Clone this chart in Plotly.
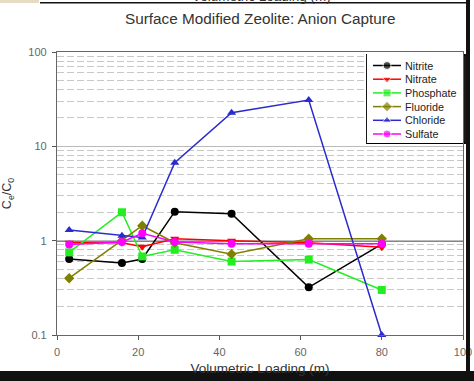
import plotly.graph_objects as go

x_loading = [3, 16, 21, 29, 43, 62, 80]
nitrite = [0.64, 0.58, 0.64, 2.03, 1.93, 0.32, 0.92]
nitrate = [0.95, 0.95, 0.86, 1.05, 1.0, 0.95, 0.85]
phosphate = [0.75, 2.0, 0.68, 0.80, 0.60, 0.63, 0.30]
fluoride = [0.40, 1.0, 1.44, 0.95, 0.72, 1.05, 1.05]
chloride = [1.3, 1.13, 1.08, 6.7, 22.7, 31.0, 0.1]
sulfate = [0.91, 0.97, 1.2, 0.97, 0.93, 0.93, 0.93]
series_names = ["Nitrite", "Nitrate", "Phosphate", "Fluoride", "Chloride", "Sulfate"]

colors = ["#000000", "#ff0000", "#22ee22", "#808000", "#2a2ad0", "#ff00ff"]
symbols = ["circle", "triangle-down", "square", "diamond", "triangle-up", "circle"]
series_vals = [nitrite, nitrate, phosphate, fluoride, chloride, sulfate]

# plot area in pixels
L, R, T, B = 57, 463, 52, 335
W, H = 474, 381
PW, PH = R - L, B - T


def px(xp):
    return (xp - L) / PW


def py(yp):
    return (B - yp) / PH


fig = go.Figure()
for name, vals, col, sym in zip(series_names, series_vals, colors, symbols):
    fig.add_trace(go.Scatter(
        x=x_loading, y=vals, name=name, mode="lines+markers",
        line=dict(color=col, width=1.5),
        marker=dict(color=col, symbol=sym, size=8),
        cliponaxis=False, showlegend=False,
    ))

fig.add_hline(y=1, line=dict(color="#000080", width=1.5), layer="below")

# manual legend (compact like the reference)
LG_L, LG_R, LG_T, LG_B = 367, 465, 55, 143
fig.add_shape(type="rect", xref="paper", yref="paper",
              x0=px(LG_L), x1=px(LG_R), y0=py(LG_B), y1=py(LG_T),
              line=dict(color="#000000", width=1.8), fillcolor="white", layer="between")
row0, rowgap = 65.5, 13.7
for i, (name, col, sym) in enumerate(zip(series_names, colors, symbols)):
    yc = row0 + i * rowgap
    fig.add_trace(go.Scatter(
        x=[373, 387, 401], y=[yc, yc, yc], xaxis="x2", yaxis="y2",
        mode="lines+markers", line=dict(color=col, width=1.5),
        marker=dict(color=col, symbol=sym, size=[0, 8, 0]),
        showlegend=False, hoverinfo="skip", cliponaxis=False,
    ))
    fig.add_annotation(x=404, y=yc, xref="x2", yref="y2", text=name, showarrow=False,
                       xanchor="left", yanchor="middle", borderpad=0,
                       font=dict(size=10.8, color="#222222"))

font = "Liberation Sans, Arial, sans-serif"
fig.update_layout(
    width=W, height=H,
    margin=dict(l=L, r=W - R, t=T, b=H - B, autoexpand=False),
    paper_bgcolor="white", plot_bgcolor="white",
    font=dict(family=font, size=11, color="#555555"),
    title=dict(text="Surface Modified Zeolite: Anion Capture", x=0.549, xanchor="center",
               y=0.952, yanchor="middle", font=dict(size=15.3, color="#333333")),
    showlegend=False,
    xaxis=dict(range=[0, 100], tick0=0, dtick=20, ticks="outside", ticklen=4,
               tickcolor="#555555", showgrid=False, zeroline=False, automargin=False,
               showline=True, linecolor="#666666", linewidth=1.2, mirror=True,
               ticklabelstandoff=3,
               tickfont=dict(size=11, color="#666666"),
               title=dict(text="Volumetric Loading (m)", standoff=6,
                          font=dict(size=13.5, color="#333333"))),
    yaxis=dict(type="log", range=[-1, 2], ticks="outside", ticklen=4,
               tickcolor="#555555", automargin=False, ticklabelstandoff=3,
               tickvals=[0.1, 1, 10, 100], ticktext=["0.1", "1", "10", "100"],
               showgrid=True, gridcolor="#bbbbbb", gridwidth=1.2, zeroline=False,
               showline=True, linecolor="#666666", linewidth=1.2, mirror=True,
               tickfont=dict(size=11, color="#666666"),
               minor=dict(showgrid=True, gridcolor="#c8c8c8", griddash="7px,3px",
                          gridwidth=1.2, dtick="D1"),
               title=dict(text="C<sub>e</sub>/C<sub>0</sub>", standoff=14,
                          font=dict(size=12.5, color="#333333"))),
    xaxis2=dict(domain=[px(LG_L), 1], range=[LG_L, R], visible=False, fixedrange=True,
                anchor="y2", automargin=False),
    yaxis2=dict(domain=[py(LG_B), 1], range=[LG_B, T], visible=False, fixedrange=True,
                anchor="x2", automargin=False),
)

# screenshot frame decorations
dark = "#111111"
fig.add_shape(type="rect", xref="paper", yref="paper", x0=px(40), x1=px(470),
              y0=py(3.5), y1=py(2), line=dict(width=0), fillcolor=dark, layer="above")
fig.add_shape(type="rect", xref="paper", yref="paper", x0=px(0), x1=px(39),
              y0=py(3), y1=py(0), line=dict(width=0), fillcolor="#e6dcc4", layer="above")
fig.add_shape(type="rect", xref="paper", yref="paper", x0=px(466), x1=px(470),
              y0=py(371), y1=py(0), line=dict(width=0), fillcolor=dark, layer="above")
fig.add_shape(type="rect", xref="paper", yref="paper", x0=px(0), x1=px(W),
              y0=py(H), y1=py(371), line=dict(width=0), fillcolor=dark, layer="above")
# cut-off caption visible at the very top of the screenshot
fig.add_annotation(x=px(261), y=py(5), xref="paper", yref="paper", yanchor="bottom",
                   text="Volumetric Loading (m)", showarrow=False, borderpad=0,
                   font=dict(size=13.5, color="#333333"))

fig.write_html("out.html")
